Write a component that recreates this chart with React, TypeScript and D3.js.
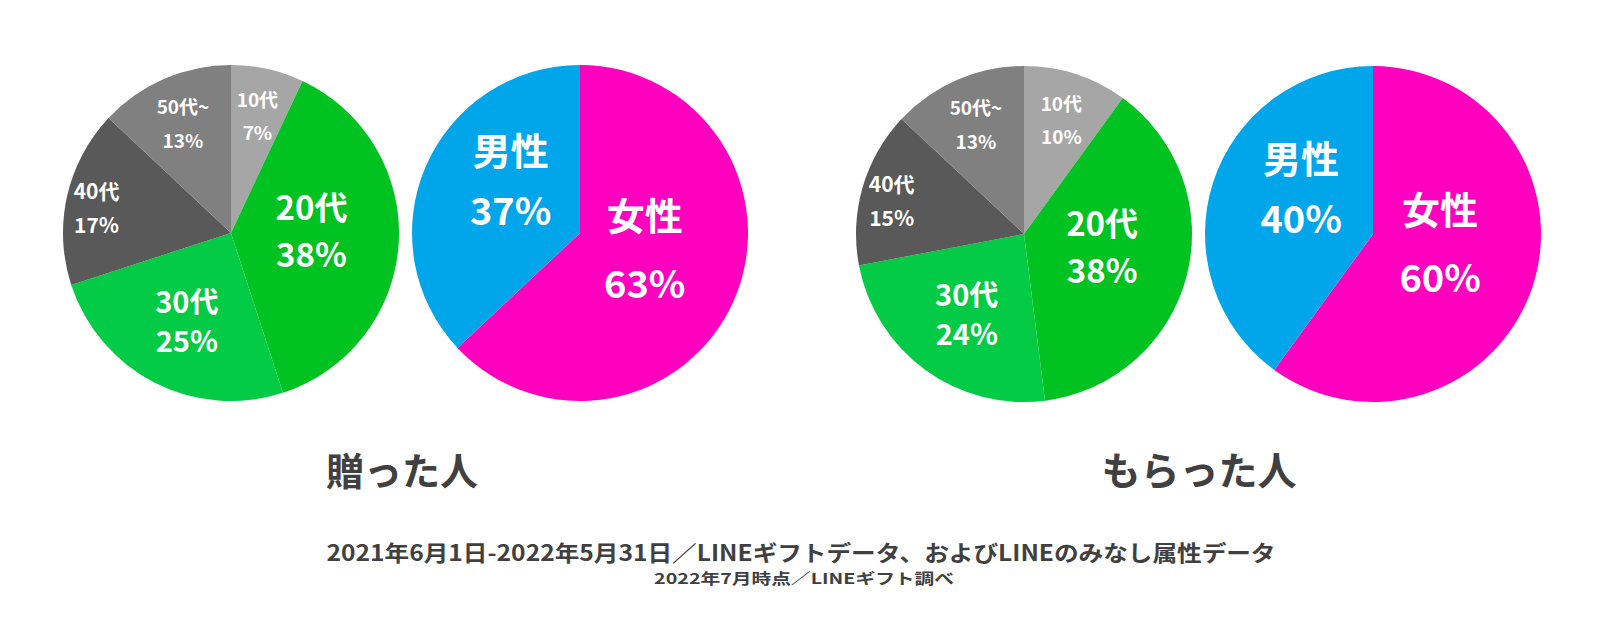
import React from 'react';
import * as d3 from 'd3';

// age breakdown (clockwise from 12 o'clock)
const ageGroups = ['10代', '20代', '30代', '40代', '50代~'];
const senderAge = [7, 38, 25, 17, 13];
const receiverAge = [10, 38, 24, 15, 13];

// gender breakdown (clockwise from 12 o'clock)
const genders = ['女性', '男性'];
const senderGender = [63, 37];
const receiverGender = [60, 40];

const groupTitles = ['贈った人', 'もらった人'];
const footnotes = [
  '2021年6月1日-2022年5月31日／LINEギフトデータ、およびLINEのみなし属性データ',
  '2022年7月時点／LINEギフト調べ',
];

const ageColor: Record<string, string> = {
  '10代': '#a6a6a6',
  '20代': '#00c221',
  '30代': '#04cb45',
  '40代': '#595959',
  '50代~': '#808080',
};
const genderColor: Record<string, string> = { 女性: '#ff00bf', 男性: '#00a6e9' };

// label placement: fraction of radius, font size, line gap, vertical shift
const ageLabel: Record<string, { k: number; fs: number; gap: number; dy: number }> = {
  '10代': { k: 0.72, fs: 19, gap: 33, dy: 0 },
  '20代': { k: 0.48, fs: 33, gap: 47, dy: -9 },
  '30代': { k: 0.58, fs: 29, gap: 39, dy: 0 },
  '40代': { k: 0.82, fs: 21, gap: 34, dy: 4 },
  '50代~': { k: 0.72, fs: 19, gap: 34, dy: 0 },
};
const genderLabel: Record<string, { k: number; fs: number; gap: number; dy: number }> = {
  女性: { k: 0.42, fs: 38, gap: 68, dy: -14 },
  男性: { k: 0.45, fs: 38, gap: 60, dy: -24 },
};

const FONT = '"Noto Sans CJK JP", "Noto Sans", sans-serif';
const R = 168;

type Row = { name: string; value: number };
type PieProps = {
  cx: number;
  cy: number;
  names: string[];
  values: number[];
  colors: Record<string, string>;
  labels: Record<string, { k: number; fs: number; gap: number; dy: number }>;
};

function Pie({ cx, cy, names, values, colors, labels }: PieProps) {
  const rows: Row[] = names.map((n, i) => ({ name: n, value: values[i] }));
  const arcs = d3.pie<Row>().sort(null).value((d) => d.value)(rows);
  const arc = d3.arc<d3.PieArcDatum<Row>>().innerRadius(0).outerRadius(R);
  return (
    <g transform={`translate(${cx},${cy})`}>
      {arcs.map((a) => (
        <path key={a.data.name} d={arc(a) || ''} fill={colors[a.data.name]} />
      ))}
      {arcs.map((a) => {
        const L = labels[a.data.name];
        const [lx, ly] = d3.arc<d3.PieArcDatum<Row>>().innerRadius(R * L.k).outerRadius(R * L.k).centroid(a);
        const y = ly + L.dy;
        return (
          <g key={'l' + a.data.name} fill="#fff" fontWeight={700} fontSize={L.fs} textAnchor="middle" dominantBaseline="central">
            <text x={lx} y={y - L.gap / 2}>{a.data.name}</text>
            <text x={lx} y={y + L.gap / 2}>{a.data.value + '%'}</text>
          </g>
        );
      })}
    </g>
  );
}

export default function App() {
  return (
    <svg width={1600} height={632} style={{ position: 'absolute', left: 0, top: 0, background: '#fff' }} fontFamily={FONT}>
      <Pie cx={231} cy={233} names={ageGroups} values={senderAge} colors={ageColor} labels={ageLabel} />
      <Pie cx={580} cy={233} names={genders} values={senderGender} colors={genderColor} labels={genderLabel} />
      <Pie cx={1024} cy={234} names={ageGroups} values={receiverAge} colors={ageColor} labels={ageLabel} />
      <Pie cx={1373} cy={234} names={genders} values={receiverGender} colors={genderColor} labels={genderLabel} />
      <g fill="#404040" fontWeight={700} fontSize={38} textAnchor="middle" dominantBaseline="central">
        <text x={402} y={468}>{groupTitles[0]}</text>
        <text x={1199} y={468} fontSize={39}>{groupTitles[1]}</text>
      </g>
      <g fill="#404040" fontWeight={700} textAnchor="middle" dominantBaseline="central">
        <text x={801} y={551} fontSize={22} textLength={949} lengthAdjust="spacingAndGlyphs">{footnotes[0]}</text>
        <text x={804} y={577} fontSize={15} textLength={300} lengthAdjust="spacingAndGlyphs">{footnotes[1]}</text>
      </g>
    </svg>
  );
}
